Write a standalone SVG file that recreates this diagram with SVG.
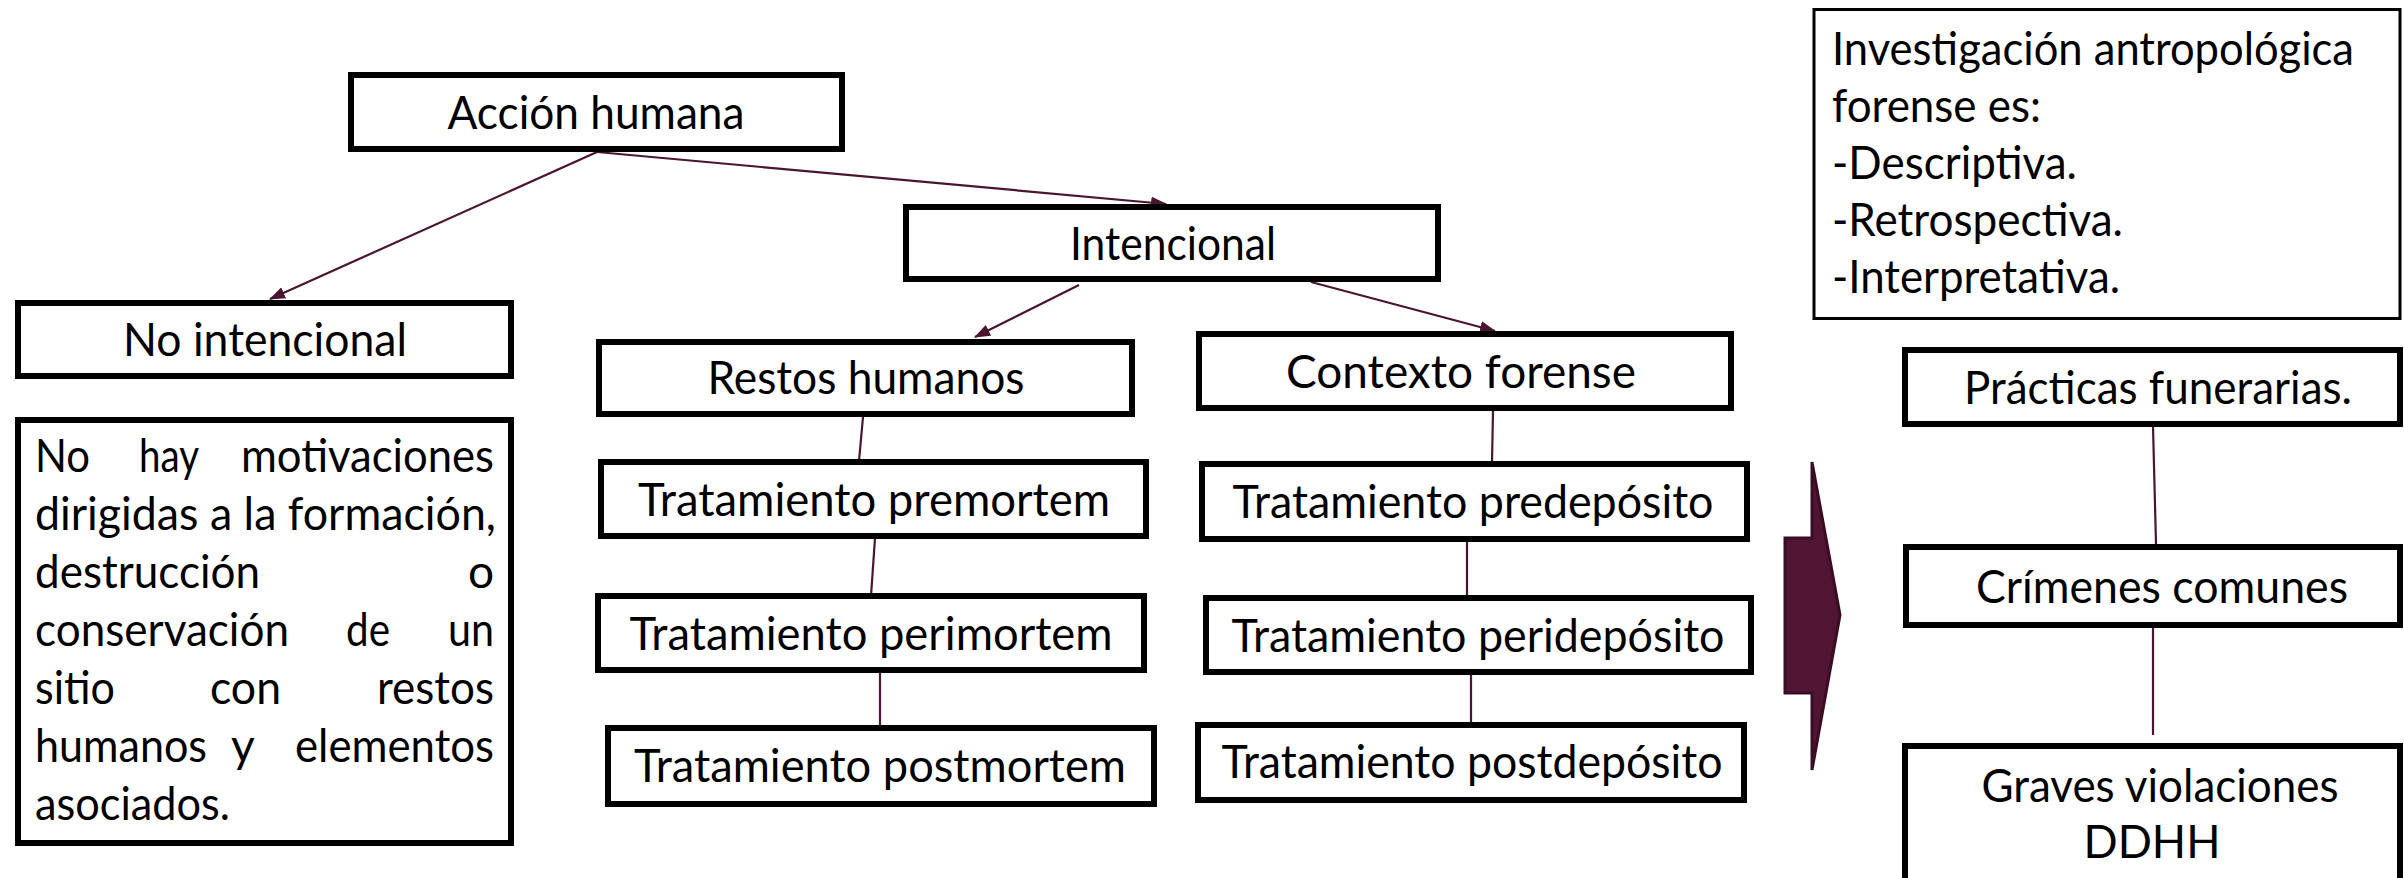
<svg xmlns="http://www.w3.org/2000/svg" width="2404" height="878" viewBox="0 0 2404 878">
<defs>
<style>
.box{fill:#ffffff;stroke:#000000;stroke-width:6}
.thin{fill:#ffffff;stroke:#000000;stroke-width:3}
.t{font-family:Lato,"Liberation Sans",sans-serif;font-size:46px;fill:#000000}
.c{text-anchor:middle}
.e{text-anchor:end}
.ln{stroke:#4a1530;stroke-width:2.2;fill:none}
</style>
<marker id="ah" markerWidth="16" markerHeight="12" refX="15" refY="6" orient="auto" markerUnits="userSpaceOnUse">
<path d="M0,0 L16,6 L0,12 z" fill="#4a1530"/>
</marker>
</defs>
<rect width="2404" height="878" fill="#ffffff"/>

<g id="connectors">
<line class="ln" x1="597" y1="152" x2="270" y2="299" marker-end="url(#ah)"/>
<line class="ln" x1="597" y1="152" x2="1166" y2="204" marker-end="url(#ah)"/>
<line class="ln" x1="1079" y1="285" x2="975" y2="337" marker-end="url(#ah)"/>
<line class="ln" x1="1311" y1="282" x2="1495" y2="331" marker-end="url(#ah)"/>
<line class="ln" x1="863" y1="417" x2="859" y2="461"/>
<line class="ln" x1="875" y1="538" x2="871" y2="596"/>
<line class="ln" x1="880" y1="672" x2="880" y2="727"/>
<line class="ln" x1="1493" y1="411" x2="1492" y2="463"/>
<line class="ln" x1="1467" y1="541" x2="1467" y2="598"/>
<line class="ln" x1="1471" y1="673" x2="1471" y2="724"/>
<line class="ln" x1="2153" y1="426" x2="2156" y2="544"/>
<line class="ln" x1="2153" y1="627" x2="2153" y2="735"/>
</g>

<g id="big-arrow">
<path d="M1785,538 L1812,538 L1812,462 L1840,615 L1812,770 L1812,693 L1785,693 Z" fill="#4f1533" stroke="#3a0d25" stroke-width="3" stroke-linejoin="miter"/>
</g>

<g id="accion-humana">
<rect class="box" x="351" y="75" width="491" height="74"/>
<text class="t c" x="596" y="129" textLength="297" lengthAdjust="spacingAndGlyphs">Acción humana</text>
</g>

<g id="intencional">
<rect class="box" x="906" y="207" width="532" height="72"/>
<text class="t c" x="1173" y="260" textLength="206" lengthAdjust="spacingAndGlyphs">Intencional</text>
</g>

<g id="no-intencional">
<rect class="box" x="18" y="303" width="493" height="73"/>
<text class="t c" x="265" y="356" textLength="284" lengthAdjust="spacingAndGlyphs">No intencional</text>
</g>

<g id="no-hay">
<rect class="box" x="18" y="420" width="493" height="423"/>
<text class="t" x="35" y="472" textLength="55" lengthAdjust="spacingAndGlyphs">No</text>
<text class="t" x="139" y="472" textLength="60" lengthAdjust="spacingAndGlyphs">hay</text>
<text class="t e" x="494" y="472" textLength="253" lengthAdjust="spacingAndGlyphs">motivaciones</text>
<text class="t" x="35" y="530" textLength="461" lengthAdjust="spacingAndGlyphs">dirigidas a la formación,</text>
<text class="t" x="35" y="588" textLength="225" lengthAdjust="spacingAndGlyphs">destrucción</text>
<text class="t e" x="494" y="588">o</text>
<text class="t" x="35" y="646" textLength="254" lengthAdjust="spacingAndGlyphs">conservación</text>
<text class="t" x="346" y="646" textLength="44" lengthAdjust="spacingAndGlyphs">de</text>
<text class="t e" x="494" y="646" textLength="46" lengthAdjust="spacingAndGlyphs">un</text>
<text class="t" x="35" y="704" textLength="80" lengthAdjust="spacingAndGlyphs">sitio</text>
<text class="t" x="210" y="704" textLength="71" lengthAdjust="spacingAndGlyphs">con</text>
<text class="t e" x="494" y="704" textLength="117" lengthAdjust="spacingAndGlyphs">restos</text>
<text class="t" x="35" y="762" textLength="172" lengthAdjust="spacingAndGlyphs">humanos</text>
<text class="t" x="231" y="762">y</text>
<text class="t e" x="494" y="762" textLength="199" lengthAdjust="spacingAndGlyphs">elementos</text>
<text class="t" x="35" y="820" textLength="195" lengthAdjust="spacingAndGlyphs">asociados.</text>
</g>

<g id="restos-humanos">
<rect class="box" x="599" y="342" width="533" height="72"/>
<text class="t c" x="866" y="394" textLength="317" lengthAdjust="spacingAndGlyphs">Restos humanos</text>
</g>

<g id="contexto-forense">
<rect class="box" x="1199" y="334" width="532" height="74"/>
<text class="t c" x="1461" y="388" textLength="350" lengthAdjust="spacingAndGlyphs">Contexto forense</text>
</g>

<g id="premortem">
<rect class="box" x="601" y="462" width="545" height="74"/>
<text class="t c" x="874" y="516" textLength="472" lengthAdjust="spacingAndGlyphs">Tratamiento premortem</text>
</g>

<g id="perimortem">
<rect class="box" x="598" y="596" width="546" height="74"/>
<text class="t c" x="871" y="650" textLength="483" lengthAdjust="spacingAndGlyphs">Tratamiento perimortem</text>
</g>

<g id="postmortem">
<rect class="box" x="608" y="728" width="546" height="76"/>
<text class="t c" x="880" y="782" textLength="492" lengthAdjust="spacingAndGlyphs">Tratamiento postmortem</text>
</g>

<g id="predeposito">
<rect class="box" x="1202" y="464" width="545" height="75"/>
<text class="t c" x="1473" y="518" textLength="481" lengthAdjust="spacingAndGlyphs">Tratamiento predepósito</text>
</g>

<g id="perideposito">
<rect class="box" x="1206" y="598" width="545" height="74"/>
<text class="t c" x="1478" y="652" textLength="493" lengthAdjust="spacingAndGlyphs">Tratamiento peridepósito</text>
</g>

<g id="postdeposito">
<rect class="box" x="1198" y="725" width="546" height="75"/>
<text class="t c" x="1472" y="778" textLength="501" lengthAdjust="spacingAndGlyphs">Tratamiento postdepósito</text>
</g>

<g id="investigacion">
<rect class="thin" x="1814" y="9.5" width="586" height="309"/>
<text class="t" x="1832" y="65" textLength="522" lengthAdjust="spacingAndGlyphs">Investigación antropológica</text>
<text class="t" x="1832" y="122" textLength="209" lengthAdjust="spacingAndGlyphs">forense es:</text>
<text class="t" x="1832" y="179" textLength="245" lengthAdjust="spacingAndGlyphs">-Descriptiva.</text>
<text class="t" x="1832" y="236" textLength="291" lengthAdjust="spacingAndGlyphs">-Retrospectiva.</text>
<text class="t" x="1832" y="293" textLength="288" lengthAdjust="spacingAndGlyphs">-Interpretativa.</text>
</g>

<g id="practicas">
<rect class="box" x="1905" y="350" width="495" height="74"/>
<text class="t c" x="2158" y="404" textLength="388" lengthAdjust="spacingAndGlyphs">Prácticas funerarias.</text>
</g>

<g id="crimenes">
<rect class="box" x="1906" y="547" width="494" height="78"/>
<text class="t c" x="2162" y="603" textLength="372" lengthAdjust="spacingAndGlyphs">Crímenes comunes</text>
</g>

<g id="graves">
<rect class="box" x="1905" y="746" width="495" height="200"/>
<text class="t c" x="2160" y="802" textLength="357" lengthAdjust="spacingAndGlyphs">Graves violaciones</text>
<text class="t c" x="2152" y="858" textLength="137" lengthAdjust="spacingAndGlyphs">DDHH</text>
</g>
</svg>
